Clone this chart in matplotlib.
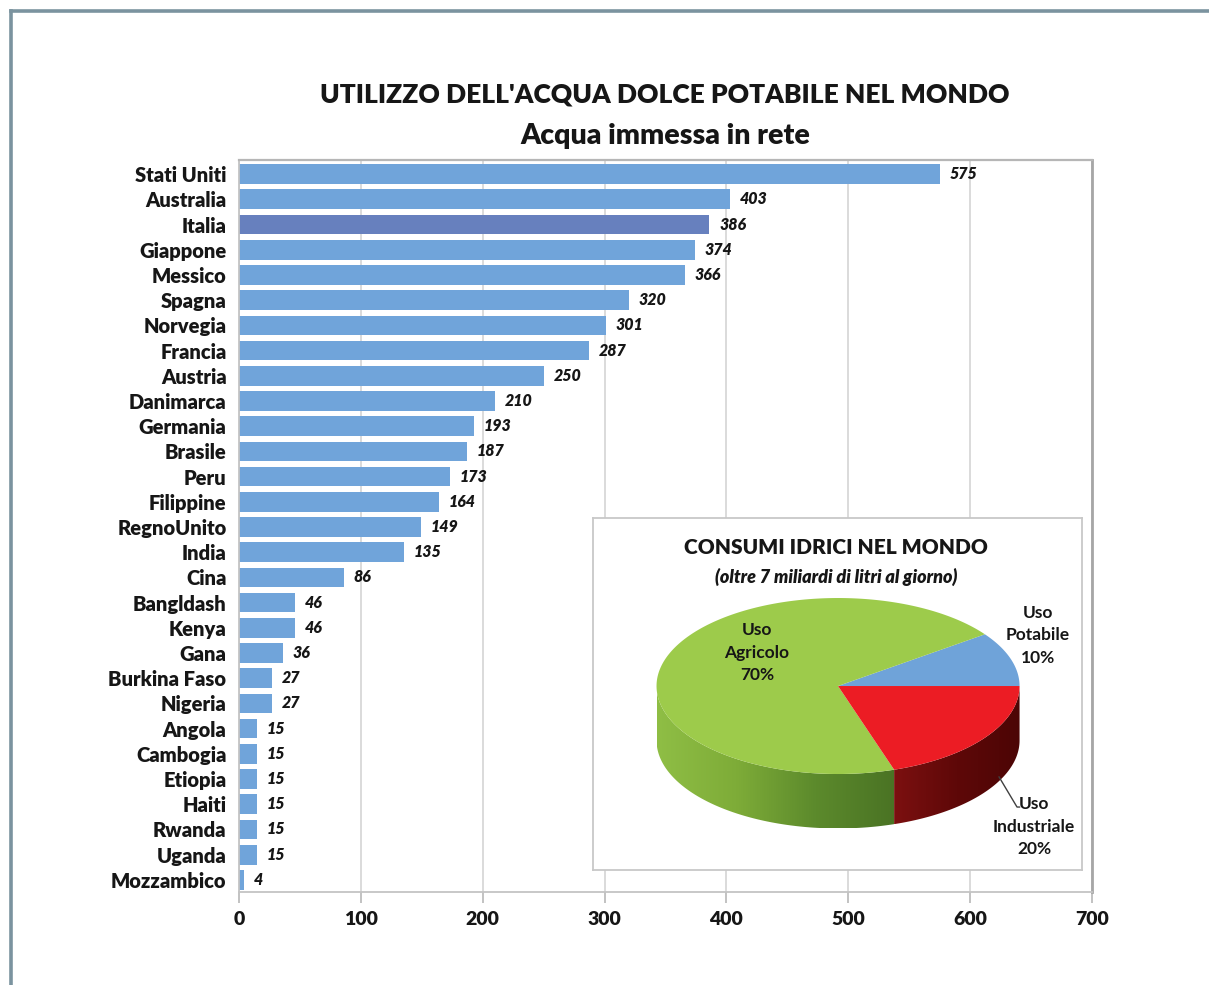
import numpy as np
import matplotlib
matplotlib.use('Agg')
import matplotlib.pyplot as plt
from matplotlib.lines import Line2D
from matplotlib.patches import Polygon
from matplotlib.colors import LinearSegmentedColormap

plt.rcParams['font.family'] = ['Lato', 'DejaVu Sans']

# ---- data: acqua immessa in rete (litri/abitante/giorno)
paesi = ['Stati Uniti', 'Australia', 'Italia', 'Giappone', 'Messico', 'Spagna',
         'Norvegia', 'Francia', 'Austria', 'Danimarca', 'Germania', 'Brasile',
         'Peru', 'Filippine', 'RegnoUnito', 'India', 'Cina', 'Bangldash', 'Kenya',
         'Gana', 'Burkina Faso', 'Nigeria', 'Angola', 'Cambogia', 'Etiopia',
         'Haiti', 'Rwanda', 'Uganda', 'Mozzambico']
litri = [575, 403, 386, 374, 366, 320, 301, 287, 250, 210, 193, 187, 173, 164,
         149, 135, 86, 46, 46, 36, 27, 27, 15, 15, 15, 15, 15, 15, 4]
x_ticks = [0, 100, 200, 300, 400, 500, 600, 700]

# ---- data: consumi idrici (pie)
usi = ['Uso\nPotabile\n10%', 'Uso\nAgricolo\n70%', 'Uso\nIndustriale\n20%']
quote = [10, 70, 20]

W, H = 1209, 985
fig = plt.figure(figsize=(W / 100, H / 100), dpi=100)
fig.patch.set_facecolor('white')

txt = '#161616'
blu = '#70a4da'
blu_it = '#6780be'
heavy = 'heavy'

# outer frame
fc = '#7b939f'
fig.add_artist(Line2D([11 / W, 1.01], [1 - 11 / H, 1 - 11 / H], color=fc, lw=2.6))
fig.add_artist(Line2D([11 / W, 11 / W], [1 - 11 / H, -0.01], color=fc, lw=2.6))

# ---- bar chart
ax = fig.add_axes([239 / W, 1 - 892 / H, (1092 - 239) / W, (892 - 160) / H])
y = np.arange(len(paesi))
colori = [blu_it if p == 'Italia' else blu for p in paesi]
ax.barh(y, litri, height=0.78, color=colori, zorder=2)
for yi, v in zip(y, litri):
    ax.annotate(str(v), (v, yi), xytext=(7, 0), textcoords='offset points',
                va='center', ha='left', fontsize=11.5, fontstyle='italic',
                fontweight=heavy, color=txt, zorder=3)

ax.set_xlim(0, 700)
ax.set_ylim(len(paesi) - 1 + 0.48, -0.56)
ax.set_xticks(x_ticks)
ax.set_xticklabels([str(t) for t in x_ticks], fontsize=14, fontweight=heavy, color=txt)
ax.set_yticks(y)
ax.set_yticklabels(paesi, fontsize=14.5, fontweight=heavy, color=txt)
ax.tick_params(axis='y', length=0, pad=9)
ax.tick_params(axis='x', length=8, color='#b8b8b8', width=1.2, pad=6)
ax.grid(axis='x', color='#d4d4d4', lw=1.2, zorder=0)
for s in ax.spines.values():
    s.set_color('#c4c4c4')
    s.set_linewidth(1.3)
ax.spines['right'].set_color('#a6a6a6')
ax.spines['right'].set_linewidth(2)
ax.spines['top'].set_color('#b6b6b6')
ax.spines['top'].set_linewidth(1.6)

fig.text(665 / W, 1 - 95 / H, "UTILIZZO DELL'ACQUA DOLCE POTABILE NEL MONDO",
         ha='center', va='center', fontsize=19, fontweight=heavy, color=txt)
fig.text(665 / W, 1 - 136 / H, 'Acqua immessa in rete',
         ha='center', va='center', fontsize=20.5, fontweight=heavy, color=txt)

# ---- inset 3D pie
bx0, by0, bx1, by1 = 593, 518, 1082, 870
pa = fig.add_axes([bx0 / W, 1 - by1 / H, (bx1 - bx0) / W, (by1 - by0) / H])
pa.set_zorder(5)
pa.set_facecolor('white')
for s in pa.spines.values():
    s.set_color('#c8c8c8')
    s.set_linewidth(1.3)
pa.set_xticks([])
pa.set_yticks([])
xl = (-1.35, 1.344)
yl = (-1.014, 0.926)

ry = 0.485
depth = 0.30

# angles from shares: potabile from 0 deg ccw, then agricolo, then industriale
fr = np.array(quote) / sum(quote)
edges = np.concatenate([[0], np.cumsum(fr)]) * 2 * np.pi
col_top = ['#6fa3d9', '#9dcb4b', '#ec1c24']
cmaps = [None,
         LinearSegmentedColormap.from_list('g', ['#8fbe45', '#7eac38', '#5c8a2c', '#4a7324']),
         LinearSegmentedColormap.from_list('r', ['#7c1010', '#5e0808', '#4c0505'])]


def arc(t0, t1, n=200):
    t = np.linspace(t0, t1, n)
    return np.cos(t), ry * np.sin(t)


# side walls (front half only)
for i in range(3):
    t0, t1 = edges[i], edges[i + 1]
    a0, a1 = max(t0, np.pi), min(t1, 2 * np.pi)
    if a1 <= a0 or cmaps[i] is None:
        continue
    cx, cy = arc(a0, a1)
    pts = np.column_stack([np.concatenate([cx, cx[::-1]]),
                           np.concatenate([cy, cy[::-1] - depth])])
    poly = Polygon(pts, closed=True, facecolor='none', edgecolor='none')
    pa.add_patch(poly)
    grad = np.linspace(0, 1, 256).reshape(1, -1)
    im = pa.imshow(grad, cmap=cmaps[i], extent=(cx.min(), cx.max(), cy.min() - depth, cy.max()),
                   aspect='auto', zorder=2)
    im.set_clip_path(poly)

# top face
for i in range(3):
    cx, cy = arc(edges[i], edges[i + 1])
    pts = np.column_stack([np.concatenate([[0], cx]), np.concatenate([[0], cy])])
    pa.add_patch(Polygon(pts, closed=True, facecolor=col_top[i], edgecolor='none', zorder=3))

pa.set_xlim(*xl)
pa.set_ylim(*yl)
pa.set_aspect('auto')

pa.text(0.497, 0.915, 'CONSUMI IDRICI NEL MONDO', transform=pa.transAxes,
        ha='center', va='center', fontsize=15, fontweight=heavy, color=txt)
pa.text(0.497, 0.832, '(oltre 7 miliardi di litri al giorno)', transform=pa.transAxes,
        ha='center', va='center', fontsize=13, fontweight=heavy, fontstyle='italic',
        color=txt)

lab_pos = [(1.10, 0.281), (-0.446, 0.182), (1.08, -0.777)]
for lab, (lx, ly) in zip(usi, lab_pos):
    pa.text(lx, ly, lab, ha='center', va='center', fontsize=12.5, color=txt,
            fontweight='bold', linespacing=1.5, zorder=6)
pa.plot([0.887, 0.986, 1.0], [-0.501, -0.667, -0.667], color='#404040', lw=1, zorder=6)

fig.savefig('out.png', dpi=100, facecolor='white')
